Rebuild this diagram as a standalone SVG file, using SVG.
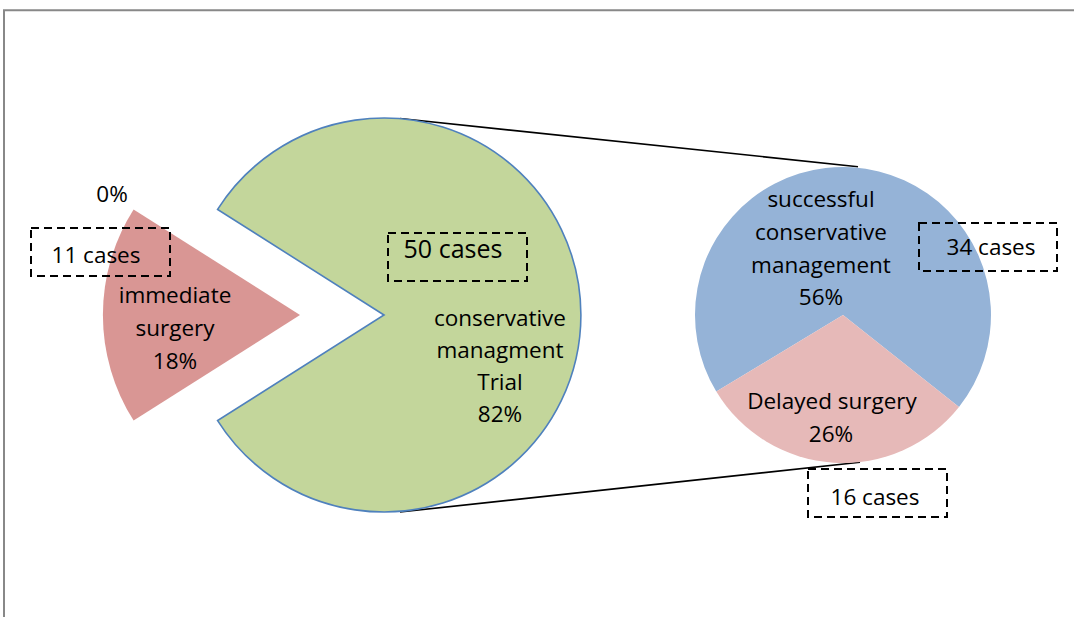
<svg xmlns="http://www.w3.org/2000/svg" width="1074" height="617" viewBox="0 0 1074 617">
  <style>
    .lbl { font-family: "Open Sans", "Liberation Sans", sans-serif; font-size: 22.5px; fill: #000; text-anchor: middle; }
    .big { font-size: 25px; }
    .box { fill: none; stroke: #000; stroke-width: 2; stroke-dasharray: 8 5; }
    .conn { stroke: #000; stroke-width: 1.6; fill: none; }
    .frame { stroke: #888; stroke-width: 2; fill: none; }
  </style>
  <rect width="1074" height="617" fill="#fff"/>

  <!-- chart frame -->
  <path class="frame" d="M4,617 V10.3 H1074"/>

  <!-- leader lines from the main pie to the breakdown pie -->
  <g id="connectors">
    <line class="conn" x1="400" y1="118.5" x2="858" y2="166.7"/>
    <line class="conn" x1="400" y1="512" x2="860" y2="462.3"/>
  </g>

  <!-- main pie: conservative management trial -->
  <g id="conservative-trial">
    <path d="M384,315 L217.6,209.4 A197,197 0 1,1 217.6,420.6 Z" fill="#C3D69B" stroke="#4F81BD" stroke-width="1.6" stroke-linejoin="miter"/>
    <text class="lbl" x="500" y="326">conservative</text>
    <text class="lbl" x="500" y="358">managment</text>
    <text class="lbl" x="500" y="390">Trial</text>
    <text class="lbl" x="500" y="422">82%</text>
    <rect class="box" x="388" y="233" width="139" height="48"/>
    <text class="lbl big" x="453" y="258">50 cases</text>
  </g>

  <!-- exploded slice: immediate surgery -->
  <g id="immediate-surgery">
    <path d="M300,315 L133.6,209.4 A197,197 0 0,0 133.6,420.6 Z" fill="#D99694"/>
    <text class="lbl" x="175" y="303">immediate</text>
    <text class="lbl" x="175" y="336">surgery</text>
    <text class="lbl" x="175" y="369">18%</text>
    <text class="lbl" x="112" y="202">0%</text>
    <rect class="box" x="31" y="228" width="139" height="48"/>
    <text class="lbl" x="96" y="263">11 cases</text>
  </g>

  <!-- breakdown pie: successful conservative management -->
  <g id="successful-conservative">
    <path d="M843,315 L959,406.9 A148,148 0 1,0 716.3,391.5 Z" fill="#95B3D7"/>
    <text class="lbl" x="821" y="207">successful</text>
    <text class="lbl" x="821" y="240">conservative</text>
    <text class="lbl" x="821" y="273">management</text>
    <text class="lbl" x="821" y="305">56%</text>
    <rect class="box" x="919" y="223" width="138" height="48"/>
    <text class="lbl" x="991" y="255">34 cases</text>
  </g>

  <!-- breakdown pie: delayed surgery -->
  <g id="delayed-surgery">
    <path d="M843,315 L959,406.9 A148,148 0 0,1 716.3,391.5 Z" fill="#E6B9B8"/>
    <text class="lbl" x="832" y="409">Delayed surgery</text>
    <text class="lbl" x="831" y="442">26%</text>
    <rect class="box" x="808" y="469" width="139" height="48"/>
    <text class="lbl" x="875" y="505">16 cases</text>
  </g>
</svg>
